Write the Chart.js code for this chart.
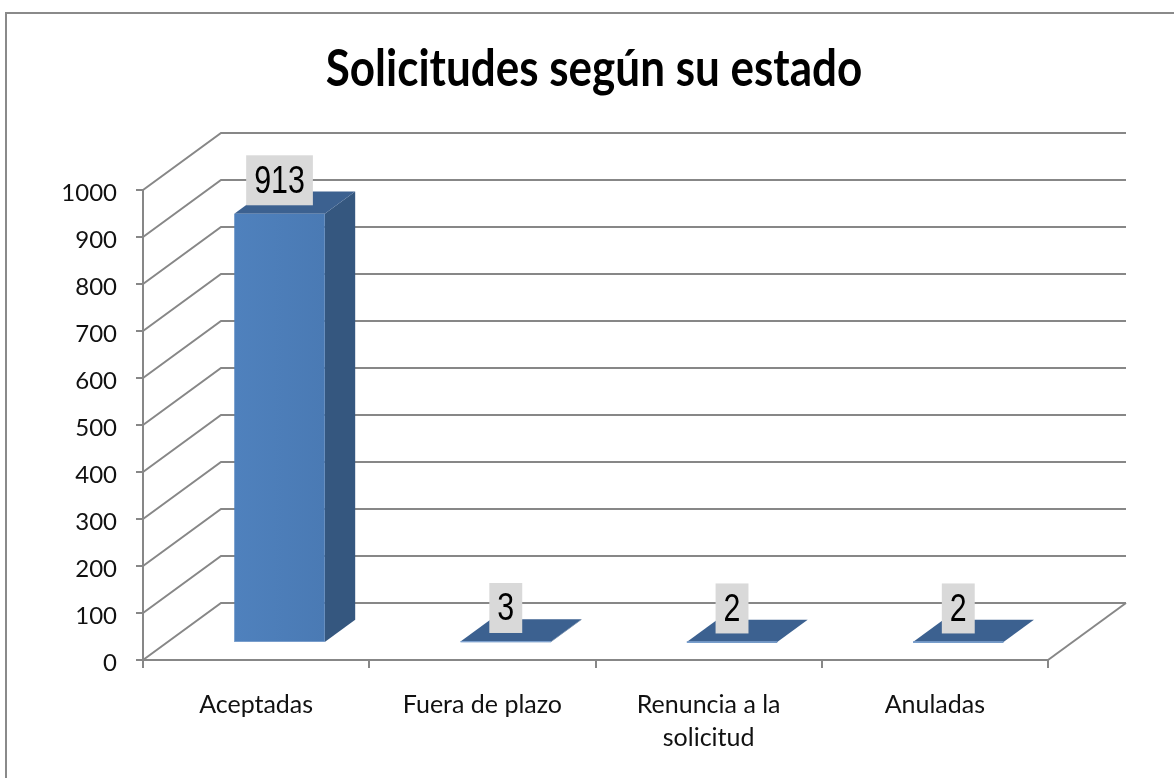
<!DOCTYPE html>
<html>
<head>
<meta charset="utf-8">
<script src="https://cdn.jsdelivr.net/npm/chart.js@4/dist/chart.umd.min.js"></script>
<style>
  html, body { margin: 0; padding: 0; background: #fff; }
  #wrap { width: 1174px; height: 778px; position: relative; }
</style>
</head>
<body>
<div id="wrap"><canvas id="c" width="1174" height="778"></canvas></div>
<script>
const title = 'Solicitudes según su estado';
const categories = ['Aceptadas', 'Fuera de plazo', ['Renuncia a la', 'solicitud'], 'Anuladas'];
const values = [913, 3, 2, 2];
const yMin = 0;
const yMax = 1000;
const yStep = 100;

// 3D look
const DEPTH_X = 78, DEPTH_Y = -57;
const BAR_D0 = 0.30, BAR_D1 = 0.69;
const GRID = '#878787';

const threeD = {
  id: 'threeD',
  beforeDatasetsDraw(chart) {
    const ctx = chart.ctx;
    const ys = chart.scales.y, xs = chart.scales.x;
    const L = xs.left, R = xs.right;
    ctx.save();
    ctx.strokeStyle = GRID;
    ctx.lineWidth = 2;
    ctx.lineCap = 'butt';
    ctx.lineJoin = 'miter';
    ys.ticks.forEach(t => {
      const yf = ys.getPixelForValue(t.value);
      ctx.beginPath();
      ctx.moveTo(L, yf);
      ctx.lineTo(L + DEPTH_X, yf + DEPTH_Y);
      ctx.lineTo(R + DEPTH_X, yf + DEPTH_Y);
      ctx.stroke();
    });
    const y0 = ys.getPixelForValue(yMin);
    ctx.beginPath();
    ctx.moveTo(R, y0);
    ctx.lineTo(R + DEPTH_X, y0 + DEPTH_Y);
    ctx.stroke();
    ctx.restore();
  },
  afterDatasetsDraw(chart) {
    const ctx = chart.ctx;
    const meta = chart.getDatasetMeta(0);
    const dx = (BAR_D1 - BAR_D0) * DEPTH_X, dy = (BAR_D1 - BAR_D0) * DEPTH_Y;
    ctx.save();
    meta.data.forEach((el, i) => {
      const p = el.getProps(['x', 'y', 'base', 'width'], true);
      const fx = p.x + BAR_D0 * DEPTH_X;
      const fy = p.y + BAR_D0 * DEPTH_Y;
      const fb = p.base + BAR_D0 * DEPTH_Y;
      const l = fx - p.width / 2, r = fx + p.width / 2;
      // side
      ctx.fillStyle = '#35577f';
      ctx.beginPath();
      ctx.moveTo(r, fy); ctx.lineTo(r + dx, fy + dy); ctx.lineTo(r + dx, fb + dy); ctx.lineTo(r, fb);
      ctx.closePath(); ctx.fill();
      // top
      ctx.fillStyle = '#3c6190';
      ctx.beginPath();
      ctx.moveTo(l, fy); ctx.lineTo(r, fy); ctx.lineTo(r + dx, fy + dy); ctx.lineTo(l + dx, fy + dy);
      ctx.closePath(); ctx.fill();
      // front
      const g = ctx.createLinearGradient(l, 0, r, 0);
      g.addColorStop(0, '#4f81bd');
      g.addColorStop(1, '#4a7ab4');
      ctx.fillStyle = g;
      ctx.fillRect(l, fy, r - l, Math.max(fb - fy, 0.8));
      ctx.fillStyle = '#7fa3d0';
      ctx.fillRect(l, fb - 0.8, r - l, 0.8);

      // data label (condensed look)
      const txt = String(values[i]);
      const sx = 0.8;
      ctx.font = "38px 'Liberation Sans', Arial, sans-serif";
      const tw = ctx.measureText(txt).width * sx;
      const bw = tw + 16, bh = 50;
      const bx = fx - bw / 2, by = fy - 8.5 - bh;
      ctx.fillStyle = '#d9d9d9';
      ctx.fillRect(bx, by, bw, bh);
      ctx.save();
      ctx.translate(fx, by + bh / 2 + 2);
      ctx.scale(sx, 1);
      ctx.fillStyle = '#000';
      ctx.textAlign = 'center';
      ctx.textBaseline = 'middle';
      ctx.fillText(txt, 0, 0);
      ctx.restore();
    });
    ctx.restore();
  },
  afterDraw(chart) {
    const ctx = chart.ctx;
    ctx.save();
    // outer frame (top and left visible)
    ctx.strokeStyle = '#8a8a8a';
    ctx.lineWidth = 2;
    ctx.beginPath();
    ctx.moveTo(6, 800); ctx.lineTo(6, 13); ctx.lineTo(1174, 13);
    ctx.stroke();
    // title
    ctx.translate(594, 86);
    ctx.scale(1, 1.15);
    ctx.fillStyle = '#000';
    ctx.font = "bold 44px Lato, 'Open Sans', sans-serif";
    ctx.textAlign = 'center';
    ctx.textBaseline = 'alphabetic';
    ctx.fillText(title, 0, 0);
    ctx.restore();
  }
};

new Chart(document.getElementById('c'), {
  type: 'bar',
  data: {
    labels: categories,
    datasets: [{
      data: values,
      backgroundColor: 'rgba(0,0,0,0)',
      borderWidth: 0,
      barPercentage: 0.4,
      categoryPercentage: 1.0
    }]
  },
  options: {
    responsive: false,
    animation: false,
    events: [],
    layout: { padding: { top: 190, right: 126, bottom: 0, left: 0 } },
    plugins: { legend: { display: false }, tooltip: { enabled: false }, title: { display: false } },
    scales: {
      x: {
        offset: true,
        afterFit(s) { s.height = 118; },
        grid: { display: true, drawOnChartArea: false, drawTicks: true, tickLength: 8, color: GRID, lineWidth: 2, offset: true },
        border: { display: true, color: GRID, width: 2 },
        ticks: { color: '#111', font: { family: 'Lato', size: 25, lineHeight: 1.32 }, padding: 20, maxRotation: 0, autoSkip: false }
      },
      y: {
        min: yMin, max: yMax,
        afterFit(s) { s.width = 143; },
        grid: { display: true, drawOnChartArea: false, drawTicks: true, tickLength: 7, color: GRID, lineWidth: 2 },
        border: { display: true, color: GRID, width: 2 },
        ticks: { stepSize: yStep, color: '#111', font: { family: 'Lato', size: 24 }, padding: 19, labelOffset: 3,
                 callback: v => String(v) }
      }
    }
  },
  plugins: [threeD]
});
</script>
</body>
</html>
